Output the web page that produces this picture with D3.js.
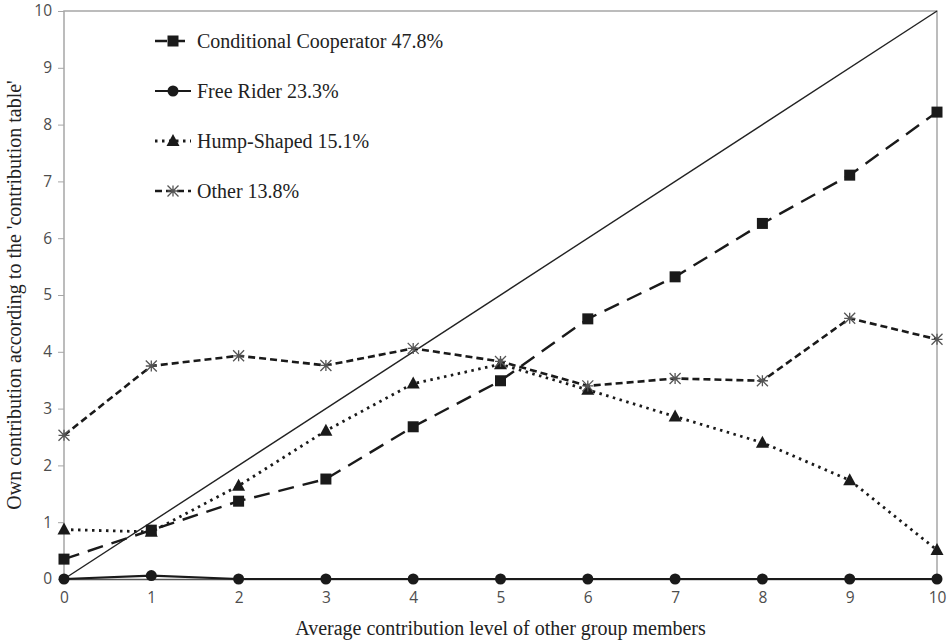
<!DOCTYPE html>
<html>
<head>
<meta charset="utf-8">
<script src="https://cdn.jsdelivr.net/npm/d3@7"></script>
<style>
  body { margin: 0; background: #fff; }
  svg { display: block; }
</style>
</head>
<body>
<div id="chart"></div>
<script>
// data
const levels = [0, 1, 2, 3, 4, 5, 6, 7, 8, 9, 10];
const conditional = [0.35, 0.86, 1.37, 1.76, 2.68, 3.49, 4.58, 5.32, 6.26, 7.11, 8.22];
const freeRider = [0, 0.06, 0, 0, 0, 0, 0, 0, 0, 0, 0];
const humpShaped = [0.87, 0.83, 1.64, 2.61, 3.44, 3.78, 3.33, 2.86, 2.40, 1.74, 0.51];
const other = [2.53, 3.75, 3.93, 3.76, 4.06, 3.83, 3.40, 3.53, 3.49, 4.59, 4.22];
const seriesNames = ["Conditional Cooperator 47.8%", "Free Rider 23.3%", "Hump-Shaped 15.1%", "Other 13.8%"];
const yTicks = [0, 1, 2, 3, 4, 5, 6, 7, 8, 9, 10];

drawChart()

function drawChart() {
    const width = 947;
    const height = 641;
    const margin = {top: 11, right: 10, bottom: 62, left: 64};

    const x = d3.scaleLinear().domain([0, 10]).range([margin.left, width - margin.right]);
    const y = d3.scaleLinear().domain([0, 10]).range([height - margin.bottom, margin.top]);

    const svg = d3.select("#chart")
        .append("svg")
        .attr("width", width)
        .attr("height", height);

    const serif = "'Liberation Serif', 'DejaVu Serif', serif";
    const sans = "'Open Sans', 'Liberation Sans', sans-serif";

    // frame: left, top, right in gray
    svg.append("path")
        .attr("d", `M${x(0)},${y(0)}V${y(10)}H${x(10)}V${y(0)}`)
        .attr("fill", "none")
        .attr("stroke", "#a6a6a6")
        .attr("stroke-width", 1.5);

    // y axis ticks and labels
    const yAxis = svg.append("g")
        .attr("transform", `translate(${x(0)},0)`)
        .call(d3.axisLeft(y).tickValues(yTicks).tickSize(6).tickPadding(6).tickFormat(d3.format("d")));
    yAxis.select(".domain").remove();
    yAxis.selectAll("line").attr("stroke", "#a6a6a6");
    yAxis.selectAll("text")
        .attr("fill", "#4d4d4d")
        .style("font-family", sans)
        .style("font-size", "15.5px");

    // x axis
    const xAxis = svg.append("g")
        .attr("transform", `translate(0,${y(0)})`)
        .call(d3.axisBottom(x).tickValues(levels).tickSize(0).tickPadding(13).tickFormat(d3.format("d")));
    xAxis.select(".domain").attr("stroke", "#555").attr("stroke-width", 1.5);
    xAxis.selectAll("text")
        .attr("fill", "#4d4d4d")
        .style("font-family", sans)
        .style("font-size", "15.5px");

    // axis titles
    svg.append("text")
        .attr("x", (x(0) + x(10)) / 2)
        .attr("y", 635)
        .attr("text-anchor", "middle")
        .style("font-family", serif)
        .style("font-size", "20px")
        .attr("fill", "#222")
        .text("Average contribution level of other group members");

    svg.append("text")
        .attr("transform", `translate(21,${(y(0) + y(10)) / 2}) rotate(-90)`)
        .attr("text-anchor", "middle")
        .style("font-family", serif)
        .style("font-size", "20px")
        .attr("fill", "#222")
        .text("Own contribution according to the 'contribution table'");

    // 45 degree reference line
    svg.append("line")
        .attr("x1", x(0)).attr("y1", y(0))
        .attr("x2", x(10)).attr("y2", y(10))
        .attr("stroke", "#222")
        .attr("stroke-width", 1.4);

    const series = [
        {name: seriesNames[0], values: conditional, dash: "16,9", width: 2.4, marker: "square"},
        {name: seriesNames[1], values: freeRider, dash: null, width: 2.2, marker: "circle"},
        {name: seriesNames[2], values: humpShaped, dash: "2.5,4.5", width: 2.8, marker: "triangle"},
        {name: seriesNames[3], values: other, dash: "7,4", width: 2.6, marker: "star"}
    ];

    const line = d3.line()
        .x((d, i) => x(levels[i]))
        .y(d => y(d));

    series.forEach(s => {
        svg.append("path")
            .datum(s.values)
            .attr("d", line)
            .attr("fill", "none")
            .attr("stroke", "#1a1a1a")
            .attr("stroke-width", s.width)
            .attr("stroke-dasharray", s.dash);
    });

    // markers
    function drawMarker(g, type, cx, cy) {
        if (type === "square") {
            g.append("rect")
                .attr("x", cx - 5.5).attr("y", cy - 5.5)
                .attr("width", 11).attr("height", 11)
                .attr("fill", "#1a1a1a");
        } else if (type === "circle") {
            g.append("circle")
                .attr("cx", cx).attr("cy", cy).attr("r", 5.5)
                .attr("fill", "#1a1a1a");
        } else if (type === "triangle") {
            g.append("path")
                .attr("d", `M${cx},${cy - 7}L${cx + 6.5},${cy + 5}L${cx - 6.5},${cy + 5}Z`)
                .attr("fill", "#1a1a1a");
        } else {
            const r = 5.5;
            g.append("path")
                .attr("d", `M${cx - r},${cy - r}L${cx + r},${cy + r}M${cx - r},${cy + r}L${cx + r},${cy - r}M${cx},${cy - r}V${cy + r}M${cx - r},${cy}H${cx + r}`)
                .attr("stroke", "#555")
                .attr("stroke-width", 1.3)
                .attr("fill", "none");
        }
    }

    series.forEach(s => {
        const g = svg.append("g");
        s.values.forEach((v, i) => drawMarker(g, s.marker, x(levels[i]), y(v)));
    });

    // legend
    const legend = svg.append("g");
    series.forEach((s, i) => {
        const ly = 41 + i * 50;
        legend.append("line")
            .attr("x1", 155).attr("x2", 191)
            .attr("y1", ly).attr("y2", ly)
            .attr("stroke", "#1a1a1a")
            .attr("stroke-width", s.width)
            .attr("stroke-dasharray", s.dash ? (i === 0 ? "12,6" : s.dash) : null);
        drawMarker(legend, s.marker, 173, ly);
        legend.append("text")
            .attr("x", 197)
            .attr("y", ly)
            .attr("dy", "0.35em")
            .style("font-family", serif)
            .style("font-size", "20px")
            .attr("fill", "#222")
            .text(s.name);
    });
}
</script>
</body>
</html>
